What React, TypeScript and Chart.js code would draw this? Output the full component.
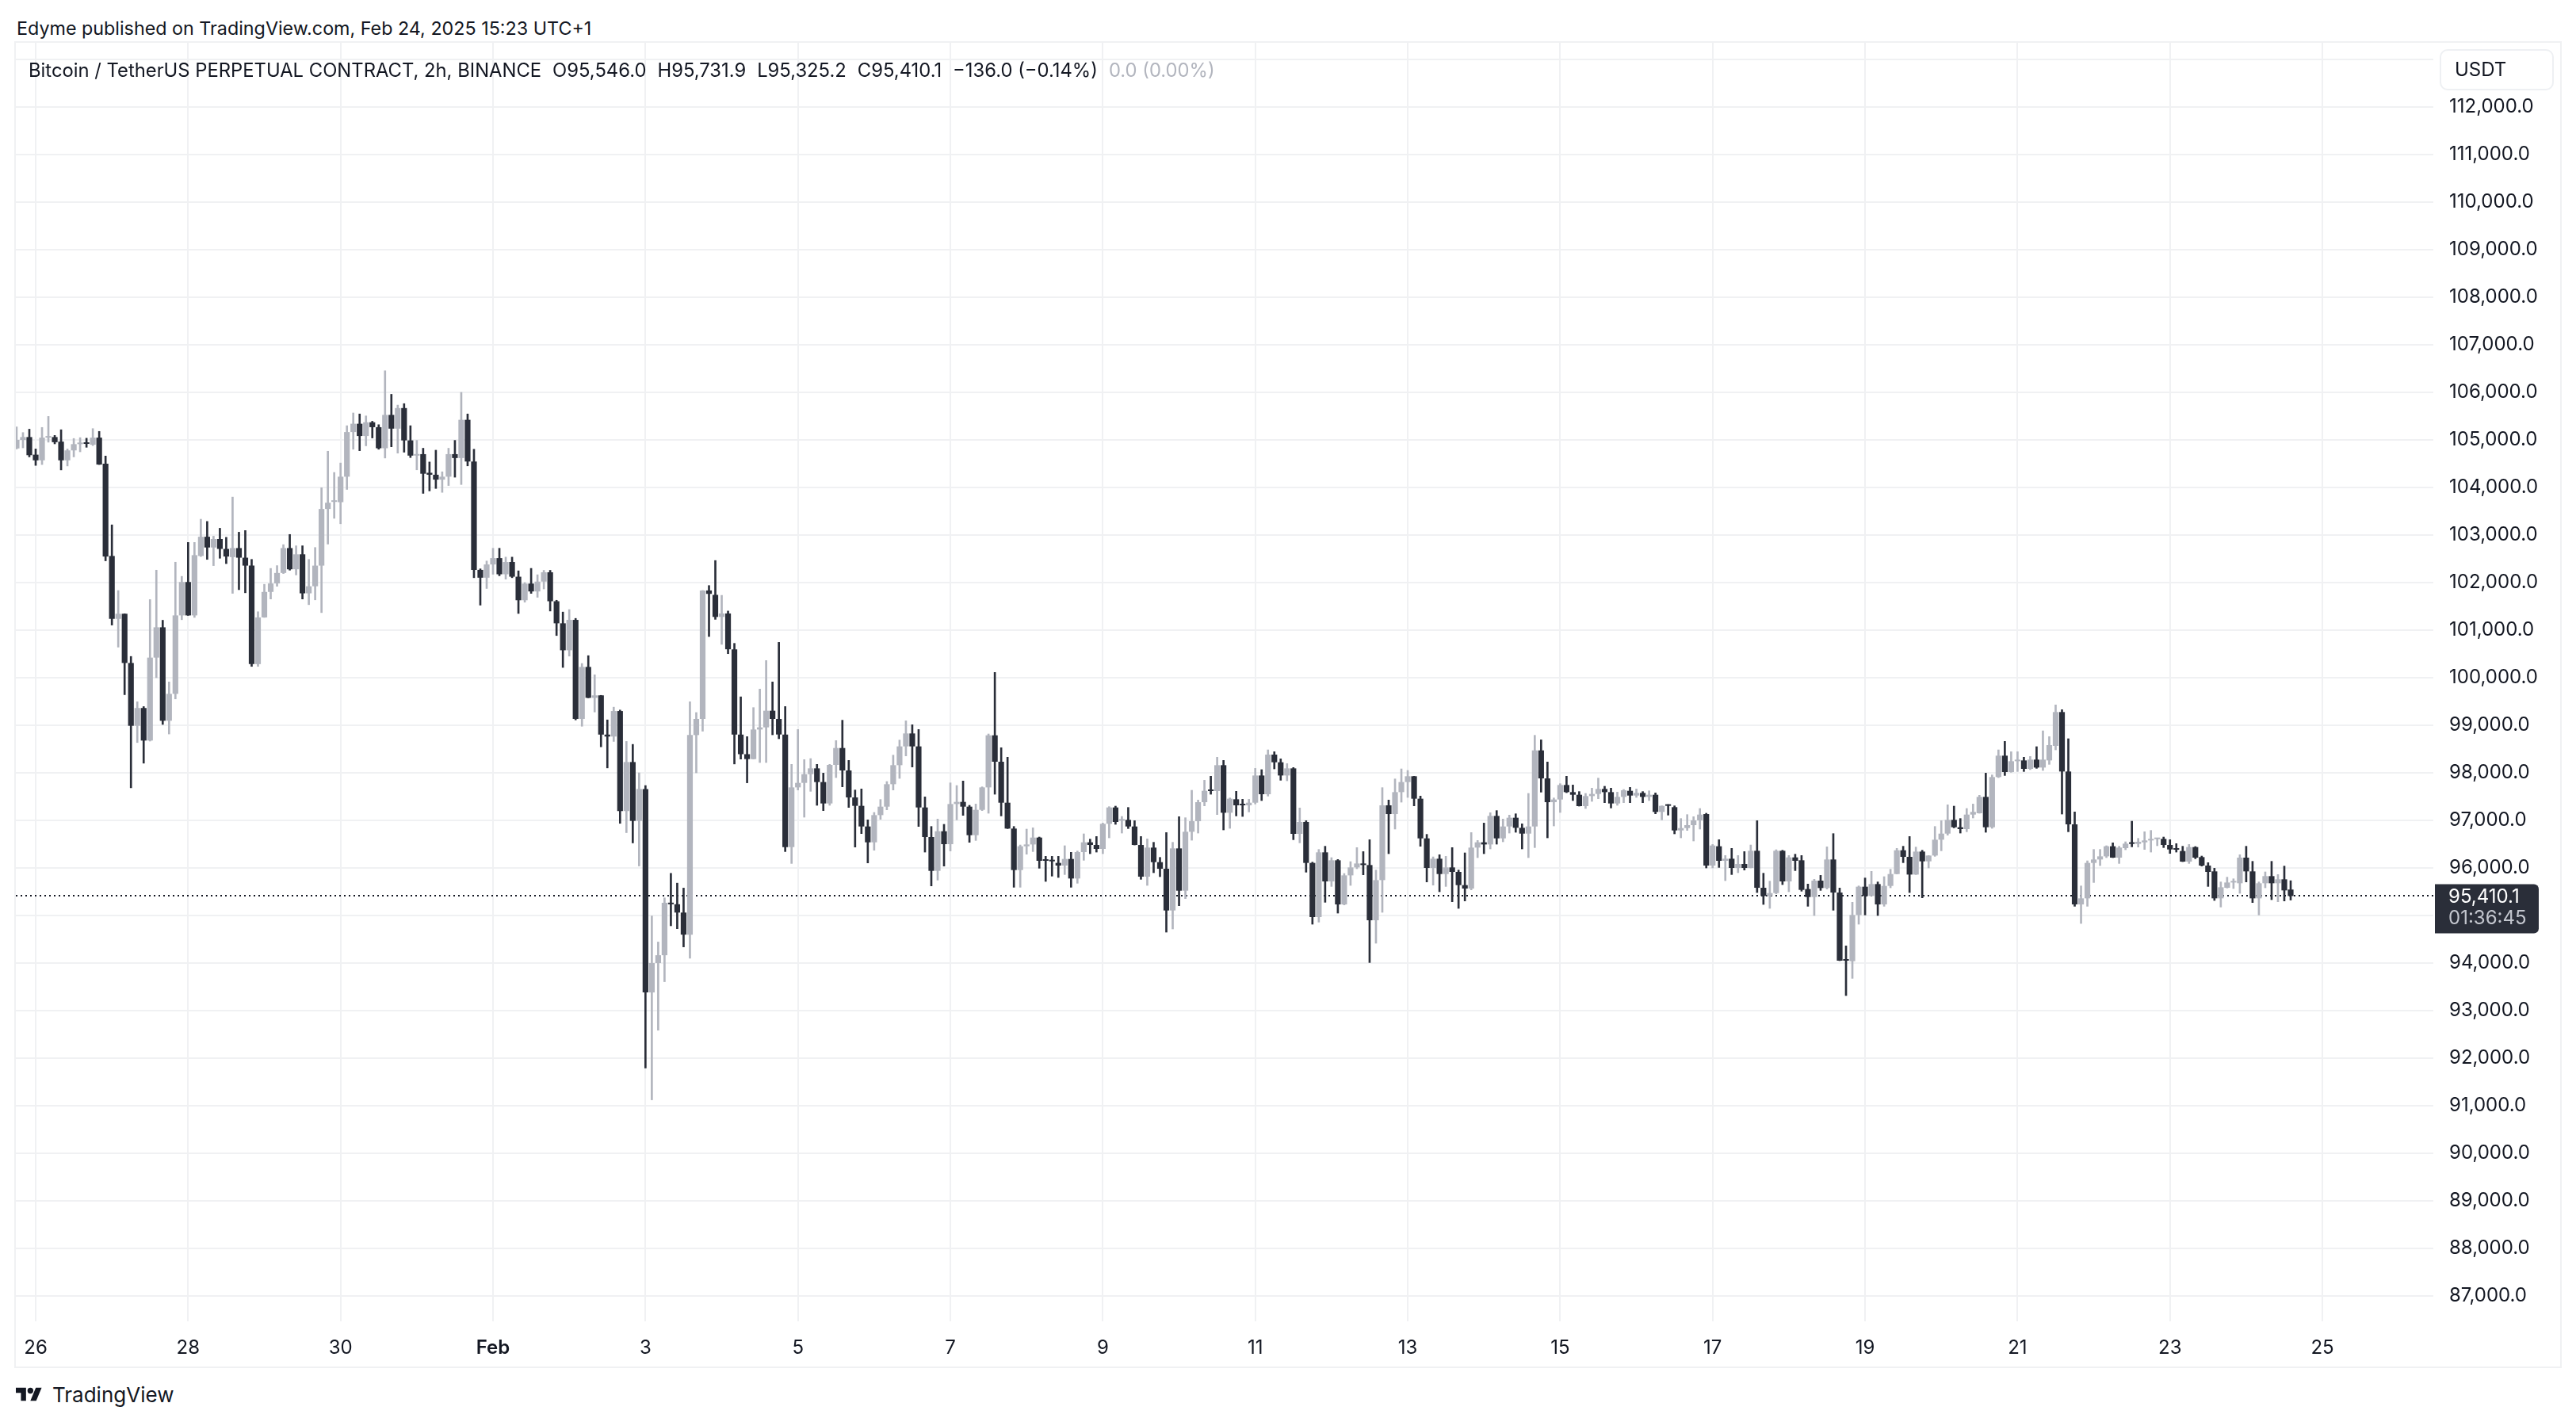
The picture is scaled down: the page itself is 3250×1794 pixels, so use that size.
import React, { useEffect, useRef } from 'react';
import { Chart, registerables } from 'chart.js';

Chart.register(...registerables);

const FONT = 'Inter, "Noto Sans", sans-serif';
const TEXT = '#131722';
const UP = '#b2b5be';
const DOWN = '#2a2e39';
const GRID = '#f0f1f3';

// 2h candles, Jan 25 18:00 -> Feb 24 14:00 (index 0 .. 358)
const opens = [
  104821, 105000, 105060, 104690, 104571, 105048, 105060, 104964, 104571, 104780,
  104911, 104940, 104899, 105048, 104500, 102560, 101238, 101345, 100310, 98989,
  99363, 98679, 100423, 101060, 99095, 99661, 101310, 102012, 101310, 102560,
  102964, 102738, 102917, 102708, 102536, 102726, 102524, 102357, 100286, 101268,
  101804, 101982, 102203, 102726, 102280, 102595, 101774, 101923, 102357, 103548,
  103697, 103691, 104227, 105165, 105340, 105082, 105371, 105268, 104825, 105526,
  105237, 105670, 104990, 104670, 104701, 104309, 104268, 104165, 104227, 104701,
  104619, 105423, 104546, 102268, 102103, 102381, 102515, 102175, 102433, 102124,
  101629, 101979, 101814, 102021, 102217, 101608, 101144, 100577, 101216, 99134,
  100227, 99577, 99629, 98804, 98763, 99299, 97196, 98227, 96990, 97660,
  93382, 94000, 94165, 95268, 95237, 95062, 94598, 98794, 99134, 101835,
  101742, 101278, 101351, 100598, 98804, 98392, 98289, 98911, 98956, 99306,
  99133, 98806, 96439, 97694, 97789, 97972, 98094, 97806, 97356, 98167,
  98522, 98050, 97483, 97306, 96872, 96539, 97111, 97289, 97761, 98161,
  98556, 98828, 98556, 97272, 96650, 95939, 96772, 96500, 97344, 97389,
  97289, 96689, 97222, 97694, 98789, 98233, 97372, 96828, 95956, 96456,
  96494, 96639, 96172, 96161, 96106, 96050, 96189, 95778, 96333, 96539,
  96483, 96400, 96928, 97272, 96994, 97011, 96872, 96483, 95817, 96428,
  96122, 95983, 95106, 96411, 95522, 96761, 96983, 97383, 97639, 97617,
  98161, 97161, 97444, 97339, 97317, 97372, 97944, 97550, 98383, 98222,
  97944, 98094, 96717, 96967, 96106, 94967, 96328, 95717, 96161, 95233,
  95844, 96011, 96094, 96061, 94900, 95744, 97317, 97133, 97594, 97806,
  97928, 97456, 96622, 96000, 96194, 95872, 96011, 95917, 95639, 95567,
  96428, 96539, 96494, 97094, 96622, 96872, 97056, 96844, 96722, 96872,
  98472, 97883, 97383, 97439, 97744, 97594, 97539, 97300, 97511, 97556,
  97661, 97594, 97356, 97494, 97622, 97522, 97578, 97494, 97539, 97178,
  97317, 97278, 96789, 96839, 96900, 97000, 97133, 96050, 96456, 96150,
  96194, 96000, 96083, 96000, 96361, 95583, 95411, 95472, 96361, 95717,
  96222, 96161, 95556, 95389, 95733, 95578, 96178, 95483, 94067, 94039,
  95011, 95606, 95411, 95661, 95233, 95622, 95872, 96372, 96233, 95861,
  96344, 96139, 96261, 96594, 96722, 97011, 96856, 96817, 97122, 97150,
  97494, 96856, 97911, 98361, 98017, 98244, 98261, 98083, 98278, 98111,
  98261, 98567, 99278, 98028, 96917, 95233, 95361, 96106, 96178, 96244,
  96456, 96217, 96417, 96528, 96506, 96539, 96578, 96606, 96611, 96483,
  96406, 96356, 96133, 96439, 96228, 96050, 95928, 95361, 95583, 95694,
  95678, 96217, 95928, 95361, 95678, 95828, 95678, 95761, 95546.0,
];
const highs = [
  105274, 105155, 105226, 104810, 105262, 105494, 105095, 105214, 104810, 105030,
  105048, 105036, 105238, 105179, 104661, 103214, 101833, 101345, 100447, 99494,
  99393, 101643, 102262, 101208, 99911, 102429, 102131, 102845, 102845, 103333,
  103286, 102976, 103143, 102952, 103798, 103060, 103095, 102488, 101387, 101964,
  102298, 102357, 102798, 103012, 102774, 102774, 102488, 102738, 103994, 104762,
  104316, 104515, 105299, 105567, 105546, 105505, 105392, 105320, 106454, 105959,
  105732, 105763, 105299, 104990, 104825, 104536, 104784, 104330, 104825, 104990,
  106000, 105546, 104804, 102289, 102454, 102722, 102722, 102536, 102536, 102247,
  102000, 102299, 102165, 102258, 102258, 101629, 101381, 101433, 101247, 100299,
  100464, 100062, 99629, 99113, 99381, 99320, 98660, 98598, 98000, 97732,
  94990, 94443, 95371, 95887, 95681, 95577, 99495, 99268, 101835, 101938,
  102464, 101732, 101402, 100722, 99598, 98761, 99372, 99761, 100361, 99911,
  100744, 99394, 98178, 98911, 98278, 98300, 98178, 97994, 98178, 98678,
  99106, 98261, 97639, 97661, 97011, 97167, 97439, 97817, 98372, 98689,
  99094, 99011, 98911, 97494, 96872, 97028, 96917, 97789, 97733, 97828,
  97317, 97344, 97706, 98817, 100111, 98528, 98328, 96872, 96483, 96817,
  96844, 96650, 96244, 96244, 96244, 96467, 96328, 96356, 96717, 96606,
  96661, 96944, 97289, 97300, 97083, 97272, 96994, 96661, 96611, 96539,
  96222, 96744, 96539, 97078, 97056, 97633, 97428, 97844, 97928, 98328,
  98261, 97472, 97611, 97444, 97444, 98094, 98067, 98483, 98444, 98294,
  98194, 98111, 97261, 96994, 96122, 96389, 96456, 96217, 96178, 95883,
  96133, 96428, 96344, 96594, 95956, 97689, 97428, 97872, 98083, 98050,
  97928, 97511, 96706, 96233, 96278, 96244, 96428, 95956, 96317, 96744,
  96578, 96944, 97161, 97206, 97028, 97111, 97139, 96928, 97567, 98789,
  98694, 98228, 97472, 97772, 97928, 97744, 97606, 97567, 97678, 97889,
  97717, 97678, 97594, 97650, 97694, 97661, 97606, 97622, 97578, 97306,
  97333, 97306, 97039, 97122, 97078, 97250, 97150, 96494, 96594, 96261,
  96411, 96261, 96344, 96483, 96994, 95889, 95722, 96383, 96372, 96261,
  96289, 96261, 95661, 95761, 95844, 96444, 96722, 95578, 94361, 95278,
  95622, 95789, 95928, 95706, 95817, 95972, 96411, 96456, 96661, 96439,
  96372, 96261, 96872, 96994, 97328, 97300, 97039, 97250, 97344, 97528,
  97994, 97956, 98483, 98661, 98444, 98444, 98328, 98344, 98550, 98883,
  98761, 99428, 99328, 98717, 97178, 95622, 96150, 96389, 96389, 96467,
  96528, 96456, 96550, 96983, 96622, 96761, 96789, 96622, 96650, 96594,
  96511, 96456, 96494, 96450, 96250, 96111, 95994, 95706, 95806, 95772,
  96278, 96456, 96139, 95706, 95917, 96139, 95861, 96039, 95731.9,
];
const lows = [
  104810, 104833, 104643, 104464, 104482, 104952, 104917, 104369, 104452, 104643,
  104750, 104845, 104881, 104482, 102458, 101107, 100643, 99643, 97685, 98637,
  98203, 98667, 100000, 99018, 98816, 99554, 101220, 101310, 101268, 102548,
  102488, 102357, 102512, 102399, 101774, 101851, 101786, 100238, 100238, 101268,
  101655, 101923, 102190, 102262, 102161, 101655, 101536, 101637, 101369, 102810,
  103351, 103237, 103959, 104804, 104773, 104876, 105041, 104804, 104619, 104856,
  104722, 104742, 104629, 104371, 103876, 103928, 103979, 103897, 104041, 104216,
  104062, 104454, 102103, 101526, 101876, 102175, 102144, 102072, 102103, 101351,
  101588, 101773, 101691, 101866, 101402, 100887, 100216, 100454, 99113, 98979,
  99577, 99279, 98547, 98103, 98660, 96938, 96742, 96526, 96041, 91794,
  91124, 92588, 93608, 94784, 94722, 94340, 94103, 98000, 98876, 100866,
  101227, 100701, 100505, 98186, 98289, 97790, 98289, 98217, 98217, 98800,
  98717, 96344, 96094, 97639, 97067, 97611, 97317, 97206, 97317, 97900,
  97706, 97272, 96439, 96722, 96106, 96372, 97022, 97222, 97639, 97883,
  98356, 98122, 96872, 96333, 95622, 95744, 96039, 96356, 97011, 97106,
  96539, 96578, 97206, 97150, 97550, 97094, 96828, 95594, 95594, 96289,
  96344, 95994, 95717, 95828, 95800, 95861, 95594, 95678, 96161, 96300,
  96333, 96300, 96633, 96917, 96733, 96828, 96483, 95761, 95633, 95900,
  95817, 94650, 94717, 95206, 95356, 96583, 96733, 97306, 97550, 97122,
  96800, 96833, 97094, 97083, 97178, 97344, 97417, 97511, 98083, 97844,
  97833, 96594, 96528, 95911, 94817, 94861, 95278, 95611, 95050, 95222,
  95633, 95983, 95856, 94011, 94417, 95067, 96300, 96817, 97383, 97483,
  97306, 96456, 95706, 95639, 95500, 95611, 95289, 95150, 95306, 95539,
  96217, 96300, 96400, 96500, 96550, 96733, 96750, 96400, 96217, 96428,
  97594, 96633, 96883, 97167, 97583, 97417, 97300, 97250, 97400, 97456,
  97372, 97261, 97317, 97372, 97372, 97483, 97372, 97417, 97139, 97011,
  97111, 96717, 96633, 96789, 96567, 96817, 96000, 96000, 96011, 95733,
  95861, 95900, 95956, 96000, 95483, 95233, 95150, 95456, 95650, 95500,
  95944, 95511, 95194, 95000, 95528, 95556, 95111, 94050, 93317, 93678,
  94817, 95011, 95411, 95000, 95194, 95583, 95872, 96111, 95483, 95861,
  95372, 96000, 96244, 96361, 96689, 96844, 96733, 96761, 97050, 97150,
  96750, 96833, 97900, 97944, 98011, 98028, 98028, 98067, 98094, 98050,
  98178, 98483, 97133, 96761, 95194, 94833, 95194, 95694, 96050, 96217,
  96217, 96094, 96383, 96444, 96439, 96389, 96333, 96467, 96428, 96306,
  96333, 96133, 96094, 96194, 96039, 95611, 95317, 95178, 95578, 95567,
  95467, 95706, 95272, 95011, 95583, 95333, 95289, 95306, 95325.2,
];
const closes = [
  105000, 105060, 104679, 104571, 105048, 105071, 104952, 104571, 104780, 104911,
  104940, 104917, 105048, 104482, 102548, 101238, 101345, 100310, 98989, 99363,
  98679, 100423, 101060, 99095, 99661, 101310, 102012, 101310, 102577, 102964,
  102738, 102917, 102708, 102548, 102726, 102524, 102357, 100286, 101268, 101804,
  101982, 102203, 102726, 102280, 102595, 101774, 101923, 102357, 103548, 103679,
  103714, 104227, 105165, 105340, 105082, 105371, 105268, 104825, 105526, 105237,
  105670, 104990, 104670, 104701, 104289, 104268, 104165, 104227, 104701, 104619,
  105423, 104546, 102268, 102103, 102381, 102515, 102175, 102433, 102124, 101629,
  101979, 101814, 102021, 102217, 101608, 101144, 100577, 101216, 99134, 100227,
  99577, 99629, 98804, 98763, 99299, 97196, 98227, 96990, 97660, 93382,
  94000, 94165, 95268, 95237, 95062, 94598, 98794, 99134, 101835, 101763,
  101278, 101351, 100598, 98804, 98392, 98289, 98911, 98956, 99306, 99133,
  98806, 96439, 97694, 97789, 97972, 98094, 97806, 97356, 98167, 98522,
  98050, 97483, 97306, 96872, 96539, 97111, 97289, 97761, 98161, 98556,
  98828, 98556, 97272, 96650, 95939, 96772, 96500, 97344, 97389, 97289,
  96689, 97222, 97694, 98789, 98233, 97372, 96828, 95956, 96456, 96494,
  96639, 96150, 96150, 96139, 96050, 96189, 95778, 96333, 96539, 96483,
  96400, 96928, 97272, 96967, 97022, 96872, 96483, 95817, 96428, 96122,
  95983, 95106, 96411, 95522, 96761, 96983, 97383, 97622, 97617, 98161,
  97161, 97456, 97317, 97317, 97372, 97944, 97550, 98383, 98222, 97944,
  98094, 96717, 96967, 96106, 94967, 96328, 95717, 96161, 95233, 95844,
  96011, 96094, 96061, 94900, 95744, 97317, 97133, 97594, 97806, 97928,
  97456, 96622, 96000, 96194, 95872, 96011, 95917, 95639, 95567, 96428,
  96539, 96494, 97094, 96622, 96872, 97056, 96844, 96722, 96872, 98472,
  97883, 97383, 97439, 97744, 97594, 97539, 97300, 97511, 97556, 97661,
  97594, 97356, 97494, 97633, 97522, 97578, 97494, 97539, 97178, 97306,
  97306, 96789, 96839, 96900, 97000, 97122, 96050, 96472, 96150, 96194,
  96000, 96083, 96000, 96361, 95583, 95411, 95472, 96361, 95717, 96222,
  96150, 95539, 95389, 95733, 95578, 96178, 95483, 94050, 94050, 95011,
  95606, 95411, 95661, 95233, 95622, 95872, 96372, 96233, 95861, 96344,
  96139, 96261, 96594, 96722, 97011, 96856, 96817, 97122, 97178, 97494,
  96856, 97911, 98361, 98017, 98244, 98272, 98083, 98278, 98111, 98278,
  98583, 99278, 98028, 96917, 95233, 95361, 96106, 96178, 96244, 96456,
  96217, 96428, 96511, 96506, 96550, 96578, 96606, 96617, 96483, 96389,
  96383, 96133, 96439, 96217, 96050, 95917, 95361, 95594, 95694, 95717,
  96217, 95928, 95361, 95678, 95828, 95678, 95761, 95528, 95410.1,
];

// x-axis ticks: slot index -> label (every two days at 00:00)
const xTickSlots = [3, 27, 51, 75, 99, 123, 147, 171, 195, 219, 243, 267, 291, 315, 339, 363];
const xTickLabels = ['26', '28', '30', 'Feb', '3', '5', '7', '9', '11', '13', '15', '17', '19', '21', '23', '25'];
const yTickValues = [
  87000, 88000, 89000, 90000, 91000, 92000, 93000, 94000, 95000, 96000, 97000, 98000, 99000,
  100000, 101000, 102000, 103000, 104000, 105000, 106000, 107000, 108000, 109000, 110000,
  111000, 112000, 113000,
];
const yLabelled = 112000;
const lastPrice = 95410.1;
const countdown = '01:36:45';

const fmtPrice = (v: number) =>
  v.toLocaleString('en-US', { minimumFractionDigits: 1, maximumFractionDigits: 1 });

const lastPricePlugin = {
  id: 'lastPriceLine',
  beforeDatasetsDraw(chart: any) {
    const { ctx, chartArea, scales } = chart;
    const y = Math.round(scales.y.getPixelForValue(lastPrice));
    ctx.save();
    ctx.strokeStyle = TEXT;
    ctx.lineWidth = 2;
    ctx.setLineDash([2, 4]);
    ctx.beginPath();
    ctx.moveTo(chartArea.left, y);
    ctx.lineTo(chartArea.right, y);
    ctx.stroke();
    ctx.restore();
  },
  afterDraw(chart: any) {
    const { ctx, chartArea, scales } = chart;
    const y = scales.y.getPixelForValue(lastPrice);
    const x0 = chartArea.right + 2;
    ctx.save();
    ctx.fillStyle = DOWN;
    ctx.beginPath();
    ctx.roundRect(x0, y - 15, 131, 62, [0, 6, 6, 0]);
    ctx.fill();
    ctx.font = `24px ${FONT}`;
    ctx.textBaseline = 'middle';
    ctx.textAlign = 'left';
    ctx.fillStyle = '#ffffff';
    ctx.fillText(fmtPrice(lastPrice), chartArea.right + 19, y + 1);
    ctx.fillStyle = '#c3c6ce';
    ctx.fillText(countdown, chartArea.right + 19, y + 28);
    ctx.restore();
  },
};

function TvLogo() {
  return (
    <svg width="33" height="26" viewBox="0 0 36 28" style={{ position: 'absolute', left: 20, top: 1747 }}>
      <path d="M14 22H7V11H0V4h14v18zM28 22h-8l7.5-18h8L28 22z" fill={TEXT} />
      <circle cx="20" cy="8" r="4" fill={TEXT} />
    </svg>
  );
}

export default function App() {
  const canvasRef = useRef<HTMLCanvasElement | null>(null);

  useEffect(() => {
    if (!canvasRef.current) return;
    const colors = closes.map((c, i) => (c >= opens[i] ? UP : DOWN));
    const chart = new Chart(canvasRef.current, {
      type: 'bar',
      data: {
        datasets: [
          {
            label: 'wick',
            data: lows.map((l, i) => ({ x: i, y: [l, highs[i]] })) as any,
            backgroundColor: colors,
            barThickness: 2,
            grouped: false,
            order: 2,
          } as any,
          {
            label: 'body',
            data: opens.map((o, i) => ({ x: i, y: [o, closes[i]] })) as any,
            backgroundColor: colors,
            categoryPercentage: 1,
            barPercentage: 0.9,
            minBarLength: 2,
            grouped: false,
            order: 1,
          } as any,
        ],
      },
      options: {
        animation: false,
        responsive: true,
        maintainAspectRatio: false,
        layout: { padding: 0 },
        plugins: { legend: { display: false }, tooltip: { enabled: false } },
        events: [],
        scales: {
          x: {
            type: 'linear',
            min: -0.12,
            max: 380.46,
            offset: false,
            grid: { color: GRID, lineWidth: 2, drawTicks: false, offset: false },
            border: { display: false },
            afterBuildTicks: (s: any) => {
              s.ticks = xTickSlots.map((v) => ({ value: v }));
            },
            afterFit: (s: any) => {
              s.height = 57;
              s.paddingLeft = 0;
              s.paddingRight = 0;
            },
            ticks: {
              autoSkip: false,
              maxRotation: 0,
              padding: 19,
              color: TEXT,
              font: (ctx: any) => ({
                family: FONT,
                size: 24,
                weight: ctx.tick && ctx.tick.label === 'Feb' ? '600' : '400',
              }),
              callback: (v: any) => {
                const k = xTickSlots.indexOf(Math.round(Number(v)));
                return k >= 0 ? xTickLabels[k] : '';
              },
            },
          },
          y: {
            type: 'linear',
            position: 'right',
            min: 86467,
            max: 113350,
            grid: { color: GRID, lineWidth: 2, drawTicks: false },
            border: { display: false },
            afterBuildTicks: (s: any) => {
              s.ticks = yTickValues.map((v) => ({ value: v }));
            },
            afterFit: (s: any) => {
              s.width = 160;
              s.paddingTop = 0;
              s.paddingBottom = 0;
            },
            ticks: {
              padding: 20,
              color: TEXT,
              font: { family: FONT, size: 24 },
              callback: (v: any) => (Number(v) > yLabelled ? '' : fmtPrice(Number(v))),
            },
          },
        },
      },
      plugins: [lastPricePlugin],
    } as any);
    return () => chart.destroy();
  }, []);

  const legendItem: React.CSSProperties = { marginLeft: 14 };

  return (
    <div
      style={{
        position: 'absolute',
        left: 0,
        top: 0,
        width: 3250,
        height: 1794,
        background: '#ffffff',
        overflow: 'hidden',
        fontFamily: FONT,
        color: TEXT,
      }}
    >
      <div style={{ position: 'absolute', left: 21, top: 21, height: 30, lineHeight: '30px', fontSize: 23.3, whiteSpace: 'nowrap' }}>
        Edyme published on TradingView.com, Feb 24, 2025 15:23 UTC+1
      </div>
      <div
        style={{
          position: 'absolute',
          left: 18,
          top: 52,
          width: 3214,
          height: 1674,
          border: `2px solid ${GRID}`,
          boxSizing: 'border-box',
        }}
      />
      <div style={{ position: 'absolute', left: 20, top: 54, width: 3210, height: 1670 }}>
        <canvas ref={canvasRef} />
      </div>
      <div
        style={{
          position: 'absolute',
          left: 36,
          top: 74,
          height: 30,
          lineHeight: '30px',
          fontSize: 23.8,
          whiteSpace: 'nowrap',
          display: 'flex',
        }}
      >
        <span>Bitcoin / TetherUS PERPETUAL CONTRACT, 2h, BINANCE</span>
        <span style={legendItem}>O95,546.0</span>
        <span style={legendItem}>H95,731.9</span>
        <span style={legendItem}>L95,325.2</span>
        <span style={legendItem}>C95,410.1</span>
        <span style={legendItem}>−136.0 (−0.14%)</span>
        <span style={{ ...legendItem, color: UP }}>0.0 (0.00%)</span>
      </div>
      <div
        style={{
          position: 'absolute',
          left: 3078,
          top: 62,
          width: 144,
          height: 52,
          border: '2px solid #eef0f3',
          borderRadius: 10,
          boxSizing: 'border-box',
          fontSize: 24,
          lineHeight: '48px',
          paddingLeft: 17,
        }}
      >
        USDT
      </div>
      <TvLogo />
      <div style={{ position: 'absolute', left: 66, top: 1745, height: 30, lineHeight: '30px', fontSize: 26, whiteSpace: 'nowrap' }}>
        TradingView
      </div>
    </div>
  );
}
